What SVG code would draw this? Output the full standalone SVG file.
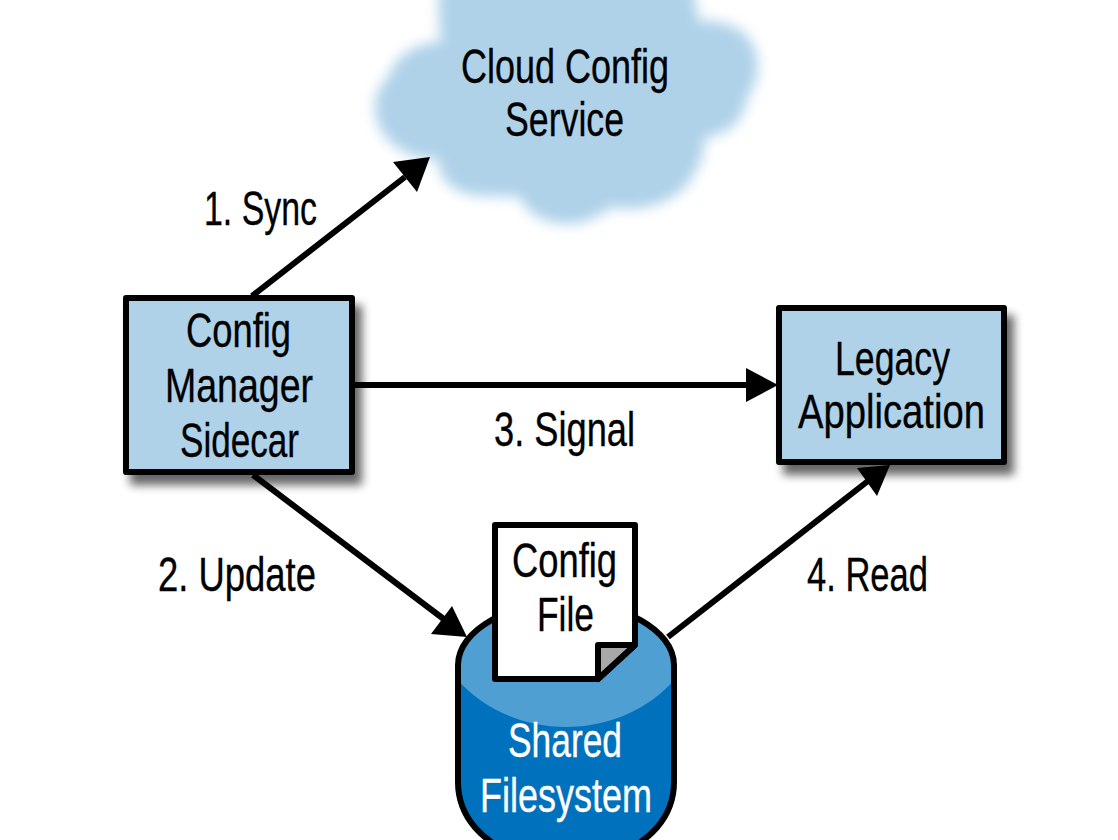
<svg xmlns="http://www.w3.org/2000/svg" width="1118" height="840" viewBox="0 0 1118 840">
<style>
text{font-family:"Liberation Sans",Arial,sans-serif;font-size:48px;fill:#000;stroke:#000;stroke-width:.35}
.w{fill:#fff;stroke:#fff}
.box{fill:#afd2e9;stroke:#000;stroke-width:6;stroke-linejoin:round}
.ln{fill:none;stroke:#000;stroke-width:6}
</style>
<defs>
<filter id="soft" x="-10%" y="-10%" width="120%" height="120%"><feGaussianBlur stdDeviation="6.5"/></filter>
<filter id="shadow" x="-15%" y="-15%" width="130%" height="130%"><feGaussianBlur stdDeviation="5"/></filter>
<clipPath id="cyl"><path d="M458 860V665C458 630 510 602 566 602S674 630 674 665V860Z"/></clipPath>
</defs>
<rect width="1118" height="840" fill="#fff"/>
<g id="cloud">
<path filter="url(#soft)" fill="#afd2e9" d="M441 -20C436 15 440 30 441 42C415 42 393 58 388 78C370 92 370 125 391 142C405 157 425 159 438 159C438 180 455 195 482 196C495 196 510 197 520 197C527 215 548 224 567 224C585 224 600 216 612 207C640 214 682 202 695 172C702 162 705 147 705 137C727 137 747 117 747 97C762 80 762 50 744 33C732 23 712 20 699 21C697 10 695 0 692 -20Z"/>
<text x="461" y="83" textLength="208" lengthAdjust="spacingAndGlyphs">Cloud Config</text>
<text x="505" y="136" textLength="119" lengthAdjust="spacingAndGlyphs">Service</text>
</g>
<g id="config-manager">
<rect x="130" y="305" width="232" height="180" fill="#000" opacity=".6" filter="url(#shadow)"/>
<rect class="box" x="126" y="298" width="226" height="174"/>
<text x="186" y="347" textLength="105" lengthAdjust="spacingAndGlyphs">Config</text>
<text x="165" y="402" textLength="148" lengthAdjust="spacingAndGlyphs">Manager</text>
<text x="180" y="457" textLength="119" lengthAdjust="spacingAndGlyphs">Sidecar</text>
</g>
<g id="legacy-application">
<rect x="783" y="315" width="231" height="160" fill="#000" opacity=".6" filter="url(#shadow)"/>
<rect class="box" x="779" y="308" width="225" height="154"/>
<text x="835" y="375" textLength="115" lengthAdjust="spacingAndGlyphs">Legacy</text>
<text x="798" y="428" textLength="187" lengthAdjust="spacingAndGlyphs">Application</text>
</g>
<g id="shared-filesystem">
<g clip-path="url(#cyl)">
<path fill="#0071bc" d="M458 782C458 815 480 845 530 860H602C652 845 674 815 674 782V665C674 630 622 602 566 602S458 630 458 665Z"/>
<path fill="#4f9fd2" d="M458 600H674V680C650 708 610 727 566 727S482 708 458 680Z"/>
</g>
<path fill="none" stroke="#000" stroke-width="6" d="M458 665C458 630 510 602 566 602S674 630 674 665V782C674 815 652 845 602 860H530C480 845 458 815 458 782Z"/>
<text class="w" x="508" y="757" textLength="114" lengthAdjust="spacingAndGlyphs">Shared</text>
<text class="w" x="480" y="812" textLength="172" lengthAdjust="spacingAndGlyphs">Filesystem</text>
</g>
<g id="config-file">
<path fill="#fff" stroke="#000" stroke-width="6" stroke-linejoin="round" d="M495 525H635V645L598 679H495Z"/>
<path fill="#a8a8a8" stroke="#000" stroke-width="6" stroke-linejoin="round" d="M598 645H635L598 679Z"/>
<text x="512" y="577" textLength="105" lengthAdjust="spacingAndGlyphs">Config</text>
<text x="537" y="631" textLength="57" lengthAdjust="spacingAndGlyphs">File</text>
</g>
<g id="connectors">
<path class="ln" d="M252 296L405 177"/><path d="M430 157L393 162L417 192Z"/>
<path class="ln" d="M354 385H750"/><path d="M778 385L746 368V402Z"/>
<path class="ln" d="M253 475L445 620"/><path d="M467 637L431 634L452 606Z"/>
<path class="ln" d="M668 637L868 481"/><path d="M890 465L857 468L877 496Z"/>
</g>
<g id="labels">
<text x="204" y="225" textLength="113" lengthAdjust="spacingAndGlyphs">1. Sync</text>
<text x="158" y="591" textLength="158" lengthAdjust="spacingAndGlyphs">2. Update</text>
<text x="494" y="446" textLength="141" lengthAdjust="spacingAndGlyphs">3. Signal</text>
<text x="807" y="591" textLength="121" lengthAdjust="spacingAndGlyphs">4. Read</text>
</g>
</svg>
